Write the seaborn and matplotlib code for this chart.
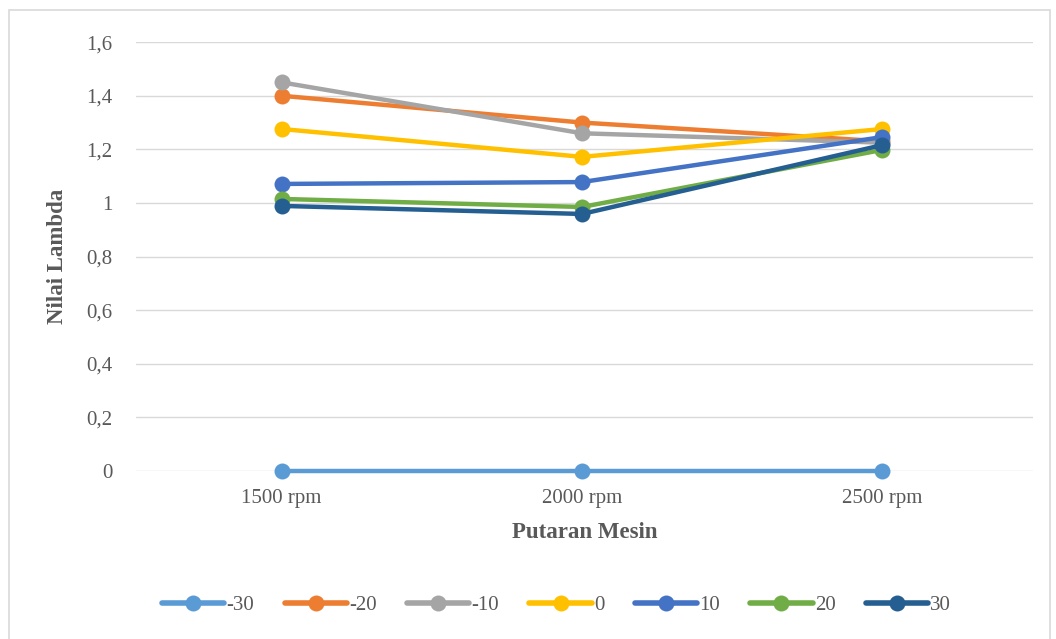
import matplotlib
matplotlib.use("Agg")
import matplotlib.pyplot as plt
import seaborn as sns
import pandas as pd
from matplotlib.patches import Rectangle
from matplotlib.ticker import FuncFormatter

categories = ["1500 rpm", "2000 rpm", "2500 rpm"]
series_names = ["-30", "-20", "-10", "0", "10", "20", "30"]
vals_m30 = [0.0, 0.0, 0.0]
vals_m20 = [1.40, 1.30, 1.23]
vals_m10 = [1.45, 1.26, 1.225]
vals_0 = [1.276, 1.172, 1.276]
vals_10 = [1.071, 1.078, 1.246]
vals_20 = [1.015, 0.985, 1.198]
vals_30 = [0.989, 0.959, 1.216]
colors = ["#5B9BD5", "#ED7D31", "#A5A5A5", "#FFC000", "#4472C4", "#70AD47", "#255E91"]

all_vals = [vals_m30, vals_m20, vals_m10, vals_0, vals_10, vals_20, vals_30]
rows = []
for name, vals in zip(series_names, all_vals):
    for cat, v in zip(categories, vals):
        rows.append({"Putaran": cat, "Lambda": v, "Sudut": name})
df = pd.DataFrame(rows)

sns.set_theme(style="white")
plt.rcParams["font.family"] = ["Liberation Serif", "DejaVu Serif"]

fig = plt.figure(figsize=(10.56, 6.39), dpi=100)
ax = fig.add_axes([0.1288, 0.263, 0.849, 0.671])

sns.lineplot(data=df, x="Putaran", y="Lambda", hue="Sudut", hue_order=series_names,
             palette=colors, marker="o", markersize=11.5, markeredgewidth=0,
             linewidth=3.2, ax=ax, sort=False, clip_on=False)

ax.set_xlim(-0.485, 2.5)
ax.set_ylim(0, 1.6)
ax.set_yticks([0, 0.2, 0.4, 0.6, 0.8, 1.0, 1.2, 1.4, 1.6])
ax.yaxis.set_major_formatter(FuncFormatter(
    lambda v, p: "0" if v == 0 else ("1" if abs(v - 1) < 1e-9 else f"{v:.1f}".replace(".", ","))))
ax.grid(axis="y", color="#D9D9D9", linewidth=1)
ax.set_axisbelow(True)
for s in ax.spines.values():
    s.set_visible(False)
ax.tick_params(axis="both", length=0, labelsize=15, colors="#595959")
ax.tick_params(axis="y", pad=17)
ax.tick_params(axis="x", pad=13)
ax.set_xlabel("Putaran Mesin", fontsize=16.5, fontweight="bold", color="#595959", labelpad=10)
ax.set_ylabel("Nilai Lambda", fontsize=16.5, fontweight="bold", color="#595959", labelpad=13)

handles, labels = ax.get_legend_handles_labels()
for h in handles:
    h.set_markersize(11.5)
    h.set_linewidth(4)
ax.get_legend().remove()
fig.legend(handles, labels, loc="center", bbox_to_anchor=(0.527, 0.053), ncol=7,
           frameon=False, fontsize=15, handlelength=3.0, handletextpad=0.1,
           columnspacing=1.45, labelcolor="#595959")

fig.patches.append(Rectangle((9 / 1056, -0.01), 1041 / 1056, 0.994,
                             transform=fig.transFigure, fill=False,
                             edgecolor="#D9D9D9", linewidth=1.2))

fig.savefig("out.png", dpi=100)
